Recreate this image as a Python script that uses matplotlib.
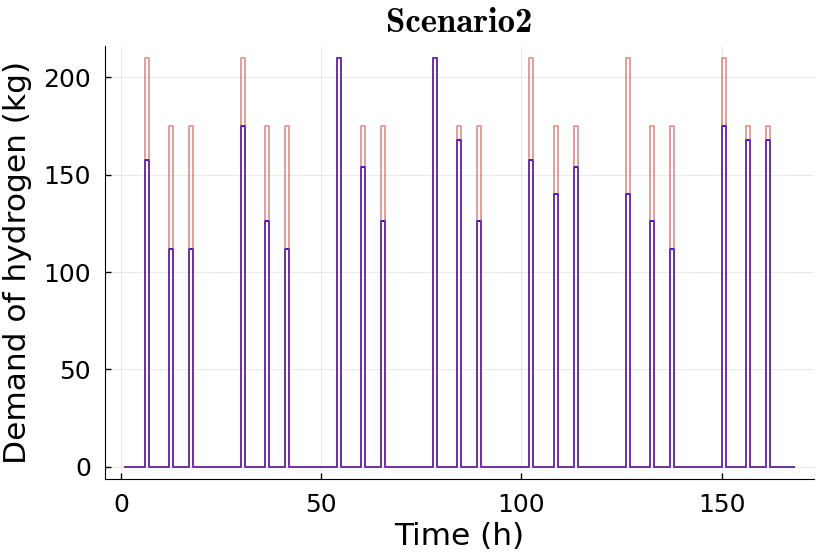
import numpy as np
import matplotlib
matplotlib.use('Agg')
import matplotlib.pyplot as plt
from matplotlib.font_manager import FontProperties
import os

# bold Computer Modern shipped with matplotlib, for the title
cmb = FontProperties(fname=os.path.join(matplotlib.get_data_path(), 'fonts', 'ttf', 'cmb10.ttf'))

# hours of the week (1..168) and the hours where demand occurs
hours = np.arange(1, 169)
demand_hours = [6, 12, 17, 30, 36, 41, 54, 60, 65, 78, 84, 89,
                102, 108, 113, 126, 132, 137, 150, 156, 161]

# maximum demand (red) and served demand (blue)
max_demand = [210, 175, 175, 210, 175, 175, 210, 175, 175, 210, 175, 175,
              210, 175, 175, 210, 175, 175, 210, 175, 175]
served_demand = [157.5, 112, 112, 175, 126, 112, 210, 154, 126, 210, 168, 126,
                 157.5, 140, 154, 140, 126, 112, 175, 168, 168]

y_max = np.zeros(len(hours))
y_served = np.zeros(len(hours))
for h, m, s in zip(demand_hours, max_demand, served_demand):
    y_max[h - 1] = m
    y_served[h - 1] = s

fig = plt.figure(figsize=(8.3, 5.54), dpi=100)
ax = fig.add_axes([0.1265, 0.1354, 0.854, 0.7823])

ax.step(hours, y_served, where='post', color='#1010ff', linewidth=1.4)
ax.step(hours, y_max, where='post', color='#c0504d', alpha=0.55, linewidth=1.4)

ax.set_xlim(1 - 0.03 * 167, 168 + 0.03 * 167)
ax.set_ylim(-6.3, 216.3)
ax.set_xticks([0, 50, 100, 150])
ax.set_yticks([0, 50, 100, 150, 200])

ax.grid(True, color='black', alpha=0.1, linewidth=0.6)
ax.spines['top'].set_visible(False)
ax.spines['right'].set_visible(False)
ax.tick_params(direction='in', length=4, width=1, labelsize=18, pad=10)

ax.set_xlabel('Time (h)', fontsize=22.5, labelpad=4)
ax.set_ylabel('Demand of hydrogen (kg)', fontsize=22.5, labelpad=8)
cmb.set_size(25)
ax.set_title('Scenario2', fontproperties=cmb, pad=10)

plt.savefig('out.png', dpi=100)
